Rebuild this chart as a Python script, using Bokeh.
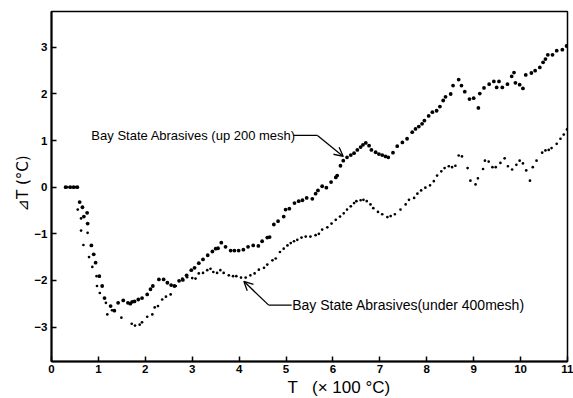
from bokeh.plotting import figure
from bokeh.models import Label, Arrow, OpenHead, Range1d, FixedTicker, Title
from bokeh.embed import file_html
from bokeh.resources import INLINE

# Series: Bay State Abrasives (up 200 mesh)
up200_T = [0.30,0.40,0.47,0.55,0.60,0.66,0.69,0.76,0.77,0.85,0.90,0.94,1.02,1.08,1.13,1.26,1.34,1.42,1.53,1.63,
           1.68,1.72,1.77,1.85,1.93,2.04,2.11,2.16,2.29,2.39,2.47,2.55,2.62,2.72,2.80,2.88,2.98,3.05,3.14,3.23,
           3.33,3.43,3.50,3.55,3.62,3.71,3.82,3.90,3.99,4.09,4.19,4.30,4.41,4.49,4.60,4.65,4.74,4.83,4.95,4.99,
           5.07,5.18,5.27,5.35,5.44,5.56,5.63,5.68,5.77,5.86,5.96,6.06,6.09,6.16,6.22,6.30,6.38,6.45,6.52,6.59,
           6.64,6.70,6.77,6.82,6.91,6.98,7.05,7.12,7.18,7.28,7.37,7.48,7.58,7.69,7.76,7.83,7.90,7.95,8.04,8.12,
           8.21,8.28,8.35,8.40,8.51,8.56,8.68,8.74,8.81,8.91,9.00,9.10,9.13,9.22,9.33,9.43,9.49,9.54,9.61,9.72,
           9.81,9.86,9.89,9.98,10.05,10.11,10.23,10.31,10.41,10.48,10.53,10.58,10.68,10.77,10.89,10.98]
up200_dT = [0,0,0,0,-0.32,-0.43,-0.63,-0.55,-0.78,-1.25,-1.44,-1.62,-1.91,-2.12,-2.38,-2.55,-2.65,-2.48,-2.43,-2.48,
            -2.50,-2.46,-2.45,-2.41,-2.38,-2.30,-2.19,-2.12,-1.98,-1.98,-2.05,-2.10,-2.12,-2.01,-1.99,-1.89,-1.78,-1.73,-1.63,-1.55,
            -1.46,-1.38,-1.32,-1.31,-1.19,-1.28,-1.36,-1.36,-1.36,-1.34,-1.28,-1.25,-1.26,-1.16,-1.08,-1.07,-0.80,-0.73,-0.63,-0.48,
            -0.46,-0.34,-0.30,-0.28,-0.23,-0.25,-0.14,-0.07,0.02,-0.01,0.11,0.21,0.25,0.46,0.57,0.64,0.69,0.73,0.80,0.86,
            0.91,0.95,0.89,0.80,0.75,0.71,0.69,0.66,0.64,0.74,0.88,0.96,1.04,1.18,1.25,1.30,1.36,1.43,1.53,1.61,
            1.64,1.73,1.86,1.94,2.00,2.18,2.31,2.18,2.05,1.89,1.91,1.70,2.01,2.13,2.21,2.27,2.14,2.27,2.14,2.21,
            2.38,2.46,2.24,2.20,2.12,2.41,2.45,2.50,2.57,2.68,2.75,2.84,2.84,2.93,2.95,3.03]

# Series: Bay State Abrasives (under 400 mesh)
under400_T = [0.34,0.51,0.56,0.63,0.63,0.68,0.77,0.80,0.87,0.96,0.97,1.03,1.16,1.19,1.29,1.49,1.71,1.78,1.88,1.93,
              2.04,2.15,2.20,2.27,2.36,2.44,2.54,2.65,2.79,2.89,3.00,3.07,3.14,3.23,3.32,3.39,3.45,3.53,3.60,3.67,
              3.78,3.87,3.94,4.04,4.14,4.24,4.33,4.42,4.53,4.60,4.71,4.78,4.87,4.95,5.03,5.10,5.17,5.24,5.33,5.42,
              5.52,5.63,5.70,5.77,5.88,5.97,6.06,6.15,6.23,6.30,6.38,6.45,6.50,6.59,6.65,6.72,6.80,6.86,6.96,7.05,
              7.16,7.23,7.32,7.44,7.55,7.62,7.73,7.80,7.88,7.97,8.07,8.15,8.22,8.31,8.38,8.47,8.54,8.61,8.68,8.75,
              8.87,8.93,9.04,9.09,9.20,9.24,9.32,9.40,9.47,9.57,9.66,9.73,9.82,9.91,9.98,10.05,10.12,10.20,10.26,10.34,
              10.46,10.53,10.60,10.66,10.77,10.85,10.92,10.99]
under400_dT = [0,0,-0.48,-0.67,-0.93,-1.24,-0.98,-1.50,-1.71,-1.91,-2.12,-2.27,-2.48,-2.73,-2.64,-2.80,-2.93,-2.97,-2.95,-2.90,
               -2.78,-2.73,-2.58,-2.55,-2.41,-2.35,-2.30,-2.12,-1.96,-1.93,-1.95,-1.96,-1.85,-1.84,-1.78,-1.75,-1.82,-1.84,-1.78,-1.84,
               -1.89,-1.91,-1.91,-1.94,-1.94,-1.89,-1.85,-1.77,-1.73,-1.66,-1.57,-1.53,-1.39,-1.32,-1.25,-1.20,-1.16,-1.13,-1.08,-1.06,
               -1.06,-1.03,-1.00,-0.91,-0.86,-0.78,-0.70,-0.63,-0.56,-0.48,-0.41,-0.34,-0.30,-0.28,-0.27,-0.30,-0.37,-0.45,-0.53,-0.58,
               -0.64,-0.62,-0.58,-0.48,-0.37,-0.27,-0.23,-0.14,-0.07,-0.01,0.04,0.13,0.25,0.34,0.41,0.45,0.43,0.46,0.68,0.66,
               0.41,0.14,0.06,0.19,0.39,0.57,0.55,0.43,0.43,0.52,0.62,0.45,0.38,0.48,0.57,0.51,0.36,0.14,0.43,0.57,
               0.74,0.79,0.80,0.84,0.93,1.04,1.13,1.24]

x_ticks = list(range(0, 12))
y_ticks = [-3, -2, -1, 0, 1, 2, 3]

label_up = "Bay State Abrasives (up 200 mesh)"
label_under = "Bay State Abrasives(under 400mesh)"
x_title = "T\u00a0\u00a0\u00a0(× 100 °C)"
y_title = "\u22bfT (°C)"

p = figure(width=573, height=398, output_backend="svg", toolbar_location=None,
           x_range=Range1d(0, 11), y_range=Range1d(-3.74, 3.77),
           min_border_left=51, min_border_right=6, min_border_top=11, min_border_bottom=37)
p.grid.visible = False
p.outline_line_color = "black"
p.outline_line_width = 1.5
p.background_fill_color = "white"
p.border_fill_color = "white"

for ax in (p.xaxis[0], p.yaxis[0]):
    ax.axis_line_width = 2
    ax.major_tick_in = 5
    ax.major_tick_out = 0
    ax.major_tick_line_width = 1.5
    ax.minor_tick_line_color = None
    ax.major_label_text_font = "Liberation Sans"
    ax.major_label_text_font_style = "bold"
    ax.major_label_text_font_size = "11.5px"
    ax.major_label_text_color = "black"
    ax.axis_line_color = "black"
    ax.major_tick_line_color = "black"
p.xaxis.ticker = FixedTicker(ticks=x_ticks)
p.yaxis.ticker = FixedTicker(ticks=y_ticks)
p.xaxis.major_label_standoff = 3
p.yaxis.major_label_standoff = 4

p.add_layout(Title(text=y_title, align="left", offset=150, standoff=0, text_color="black",
                   text_font="DejaVu Sans", text_font_style="normal", text_font_size="15px"), "left")
p.add_layout(Title(text=x_title, align="left", offset=236, standoff=0, text_color="black",
                   text_font="Liberation Sans", text_font_style="normal", text_font_size="17px"), "below")

p.scatter(up200_T, up200_dT, size=3.8, color="black", line_color=None)
p.scatter(under400_T, under400_dT, size=2.7, color="black", line_color=None)

# annotations
p.segment(x0=[5.16], y0=[1.11], x1=[5.67], y1=[1.11], line_color="black", line_width=1.2)
p.add_layout(Arrow(end=OpenHead(size=9, line_width=1.3, line_color="black"), x_start=5.67, y_start=1.11,
                   x_end=6.22, y_end=0.66, line_width=1.3, line_color="black"))
p.add_layout(Label(x=0.85, y=1.11, text=label_up, text_font="Liberation Sans", text_font_size="13px",
                   text_color="black", text_baseline="middle", text_align="left"))

p.segment(x0=[4.63], y0=[-2.53], x1=[5.12], y1=[-2.53], line_color="black", line_width=1.2)
p.add_layout(Arrow(end=OpenHead(size=9, line_width=1.3, line_color="black"), x_start=4.63, y_start=-2.53,
                   x_end=4.10, y_end=-2.02, line_width=1.3, line_color="black"))
p.add_layout(Label(x=5.13, y=-2.53, text=label_under, text_font="Liberation Sans", text_font_size="14px",
                   text_color="black", text_baseline="middle", text_align="left"))

open("out.html", "w").write(file_html(p, INLINE))
